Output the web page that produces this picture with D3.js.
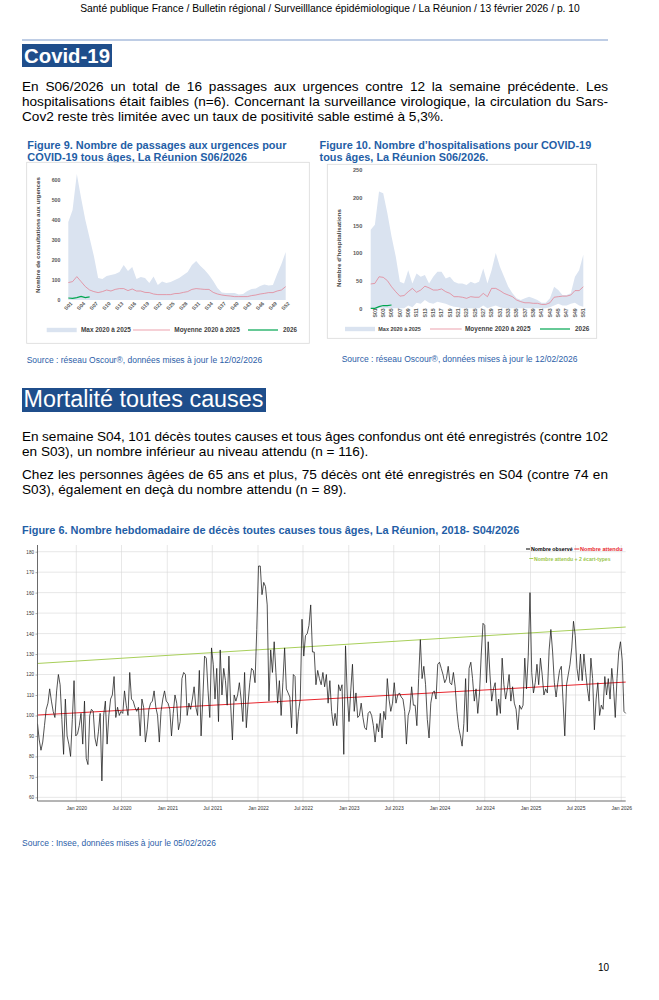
<!DOCTYPE html>
<html><head><meta charset="utf-8">
<script src="https://cdn.jsdelivr.net/npm/d3@7"></script>
<style>body{margin:0;background:#fff}svg{display:block}</style>
</head><body>
<svg id="page" width="659" height="1000"></svg>
<script>
// ---------------- DATA ----------------
const weeks = ["S01","S02","S03","S04","S05","S06","S07","S08","S09","S10","S11","S12","S13","S14","S15","S16","S17","S18","S19","S20","S21","S22","S23","S24","S25","S26","S27","S28","S29","S30","S31","S32","S33","S34","S35","S36","S37","S38","S39","S40","S41","S42","S43","S44","S45","S46","S47","S48","S49","S50","S51","S52"];
const fig9Ticks = ["S01","S04","S07","S10","S13","S16","S19","S22","S25","S28","S31","S34","S37","S40","S43","S46","S49","S52"];
const fig10Ticks = ["S01","S03","S05","S07","S09","S11","S13","S15","S17","S19","S21","S23","S25","S27","S29","S31","S33","S35","S37","S39","S41","S43","S45","S47","S49","S51"];
const fig9YTicks = [0,100,200,300,400,500,600];
const fig10YTicks = [0,50,100,150,200,250];

// Figure 9 : passages aux urgences
const fig9Max  = [390,450,630,510,400,310,220,110,105,120,125,130,140,175,145,165,105,115,110,85,118,75,92,85,90,100,110,125,140,175,195,170,150,125,95,60,38,35,35,35,28,30,45,55,58,70,78,72,75,130,180,240];
const fig9Mean = [87,92,117,92,67,50,42,37,42,50,45,53,57,57,47,55,45,45,38,37,30,27,27,27,27,32,33,38,42,53,57,55,53,53,38,30,25,22,20,17,17,17,17,22,25,30,33,37,37,45,50,67];
const fig9Y2026 = [10,8,12,18,12,16];

// Figure 10 : hospitalisations
const fig10Max  = [142,151,211,208,172,130,94,48,45,69,45,63,57,60,45,57,66,66,54,57,48,45,45,42,48,45,48,72,45,69,100,75,57,39,27,18,15,18,21,18,15,10,10,18,39,33,24,24,27,57,69,97];
const fig10Min  = [0,0,0,0,0,0,0,0,0,5,2,10,8,15,10,8,12,10,8,5,3,2,0,0,0,0,0,5,0,3,5,2,0,0,0,0,0,0,0,0,0,0,0,2,5,8,5,5,8,10,5,3];
const fig10Mean = [44,45,57,56,50,39,30,22,23,30,36,29,33,40,37,33,33,35,30,27,21,21,20,18,21,20,20,27,21,36,36,32,27,24,21,15,12,10,10,9,9,7,7,10,20,21,22,22,24,32,32,39];
const fig10Y2026 = [0,0,3,5,5,6];

// Figure 6 : décès hebdomadaires (observed, weekly from 2019-07-29)
const fig6Start = "2019-07-29";
const obsA = [96,88,83,87,95,103,106,113,107,102,99,112,120,115,98,81,108,90,86,80,98,117,90,91,95,101,86,107,79,76,100,103,102,89,85,92,101,68,100,107,86,100,108,110,119,99,104,100,102,101,112,105,100,121,108,107,104,102,104,90,108,104,87,93,103,106,107,112,104,100,87,102,108,112,107,106,103,90,101,110,106,93,97,118,121];
const obsB = [120,100,106,103,108,114,104,100,122,90,108,129,128,112,99,133,125,108,123,97,132,110,123,117,105,129,105,88,110,107,110,116,108,97,121,94,106,116,123,122,116,142,173,173,159,165,163,154,107,132,121,136,121,106,117,100,116,133,113,111,109,94,120,119,91,102,108,147,129,139,140,144,154,131,131,115,122,118,115,121,114,120,106,117,102];
const obsC = [95,101,95,115,112,115,81,134,110,97,112,125,102,111,99,100,106,99,94,93,101,102,100,95,87,96,92,101,89,102,98,118,108,102,106,116,106,110,111,109,108,102,86,100,103,114,105,105,95,118,137,118,124,115,98,89,106,111,112,108,125,126,123,120,116,118,124,116,115,121,114,102,94,90,85,96,118,92,123,126,118,107,113,101,111];
const obsD = [130,145,144,116,136,120,107,113,116,100,108,101,128,115,108,113,120,107,114,106,103,93,105,103,105,128,113,129,160,121,111,116,125,115,128,120,110,113,111,132,142,131,116,109,116,122,124,107,90,115,120,125,133,146,139,123,117,130,117,130,121,113,107,128,118,93,108,116,100,105,103,119,110,118,108,123,114,99,118,131,136,127,102,101];
const fig6TrendDates = ["2019-07-29","2026-01-19"];
const fig6Expected = [100.2,116.3];
const fig6Upper = [125.4,143.2];
const fig6TickDates = ["2020-01-01","2020-07-01","2021-01-01","2021-07-01","2022-01-01","2022-07-01","2023-01-01","2023-07-01","2024-01-01","2024-07-01","2025-01-01","2025-07-01","2026-01-01"];
const fig6TickLabels = ["Jan 2020","Jul 2020","Jan 2021","Jul 2021","Jan 2022","Jul 2022","Jan 2023","Jul 2023","Jan 2024","Jul 2024","Jan 2025","Jul 2025","Jan 2026"];
const fig6YTicks = [60,70,80,90,100,110,120,130,140,150,160,170,180];

// ---------------- DRAWING ----------------
const svg = d3.select('#page');
const FONT = "'Liberation Sans', Arial, Helvetica, sans-serif";
const BLUE_BOX = '#1f4e8b', BLUE_T = '#1f5ea6', BLUE_S = '#2c5ea8';

function txt(parent, x, y, s, o = {}) {
  const size = o.size || 12;
  const t = parent.append('text').attr('x', x).attr('y', y).text(s)
    .attr('font-family', o.family || FONT).attr('font-size', size)
    .attr('fill', o.fill || '#000').attr('font-weight', o.weight || 'normal')
    .attr('text-anchor', o.anchor || 'start');
  if (o.fit) { const w = t.node().getComputedTextLength(); t.attr('font-size', size * o.fit / w); }
  if (o.justify) {
    const w = t.node().getComputedTextLength();
    const n = (s.match(/ /g) || []).length;
    t.style('word-spacing', ((o.justify - w) / n) + 'px');
  }
  if (o.transform) t.attr('transform', o.transform);
  return t;
}

// header
txt(svg, 330, 11.5, 'Santé publique France / Bulletin régional / Surveilllance épidémiologique / La Réunion / 13 février 2026 / p. 10', {size: 9.5, anchor: 'middle', fit: 500});
svg.append('line').attr('x1', 22).attr('x2', 608).attr('y1', 40).attr('y2', 40).attr('stroke', '#a9bcdc').attr('stroke-width', 1.6);

// Covid heading
svg.append('rect').attr('x', 22).attr('y', 44).attr('width', 90).attr('height', 23).attr('fill', BLUE_BOX);
txt(svg, 24, 62.5, 'Covid-19', {size: 20, weight: 'bold', fill: '#fff', fit: 86});

// paragraph font size from the last (non-justified) line
const probe = txt(svg, 22, 120.5, 'Cov2 reste très limitée avec un taux de positivité sable estimé à 5,3%.', {size: 12.5, fit: 422});
const PS = +probe.attr('font-size');
txt(svg, 22, 90.5, 'En S06/2026 un total de 16 passages aux urgences contre 12 la semaine précédente. Les', {size: PS, justify: 586});
txt(svg, 22, 105.5, 'hospitalisations était faibles (n=6). Concernant la surveillance virologique, la circulation du Sars-', {size: PS, justify: 586});

// ---------- Covid charts ----------
function covidChart(c) {
  const g = svg.append('g');
  txt(g, c.titleX, 149, c.title1, {size: 10.5, weight: 'bold', fill: BLUE_T, fit: c.title1W});
  txt(g, c.titleX, 160.5, c.title2, {size: +g.select('text').attr('font-size'), weight: 'bold', fill: BLUE_T});
  g.append('rect').attr('x', c.box[0]).attr('y', c.box[1]).attr('width', c.box[2] - c.box[0]).attr('height', c.box[3] - c.box[1])
    .attr('fill', '#fff').attr('stroke', '#d9d9d9').attr('stroke-width', 0.8);
  const x = d3.scalePoint().domain(weeks).range(c.xr);
  const y = d3.scaleLinear().domain([0, c.yMax]).range(c.yr);
  const area = d3.area().x((d, i) => x(weeks[i])).y0((d, i) => y(c.min ? c.min[i] : 0)).y1(d => y(d));
  g.append('path').datum(c.max).attr('d', area).attr('fill', '#dae3f0');
  const line = d3.line().x((d, i) => x(weeks[i])).y(d => y(d));
  g.append('path').datum(c.mean).attr('d', line).attr('fill', 'none').attr('stroke', '#e4798a').attr('stroke-width', 0.7);
  g.append('path').datum(c.y2026).attr('d', line).attr('fill', 'none').attr('stroke', '#00a651').attr('stroke-width', 1.2);
  // y axis
  const ya = g.append('g').attr('transform', `translate(${c.xr[0]},0)`)
    .call(d3.axisLeft(y).tickValues(c.yTicks).tickSize(0).tickPadding(c.yPad));
  ya.select('.domain').remove();
  ya.selectAll('text').attr('font-family', FONT).attr('font-size', c.yFont).attr('fill', '#595959').attr('font-weight', 'bold');
  // x axis
  const xa = g.append('g').attr('transform', `translate(0,${c.yr[0]})`)
    .call(d3.axisBottom(x).tickValues(c.xTicks).tickSize(0).tickPadding(0));
  xa.select('.domain').remove();
  xa.selectAll('text').attr('font-family', FONT).attr('font-size', c.xFont).attr('fill', '#595959').attr('font-weight', 'bold')
    .attr('text-anchor', 'end').attr('dy', c.xDy).attr('dx', 0).attr('y', c.xY)
    .attr('transform', `rotate(${c.xRot})`);
  // y label
  txt(g, 0, 0, c.yLabel, {size: 6, weight: 'bold', fill: '#404040', anchor: 'middle', fit: c.yLabelW,
      transform: `translate(${c.yLabelX},${c.yLabelY}) rotate(-90)`});
  // legend
  const L = c.legend;
  g.append('rect').attr('x', L.band[0]).attr('y', L.y - 2.2).attr('width', L.band[1] - L.band[0]).attr('height', 4.4).attr('fill', '#dae3f0');
  txt(g, L.t1, L.y + 2, 'Max 2020 à 2025', {size: 6, weight: 'bold', fill: '#404040', fit: L.w1});
  g.append('line').attr('x1', L.mean[0]).attr('x2', L.mean[1]).attr('y1', L.y).attr('y2', L.y).attr('stroke', '#e4798a').attr('stroke-width', 0.7);
  txt(g, L.t2, L.y + 2, 'Moyenne 2020 à 2025', {size: 6, weight: 'bold', fill: '#404040', fit: L.w2});
  g.append('line').attr('x1', L.green[0]).attr('x2', L.green[1]).attr('y1', L.y).attr('y2', L.y).attr('stroke', '#00a651').attr('stroke-width', 1.2);
  txt(g, L.t3, L.y + 2, '2026', {size: 6, weight: 'bold', fill: '#404040', fit: L.w3});
  // source
  txt(g, c.srcX, c.srcY, 'Source : réseau Oscour®, données mises à jour le 12/02/2026', {size: 8, fill: BLUE_S, fit: c.srcW});
}

covidChart({
  titleX: 27.3, title1: 'Figure 9. Nombre de passages aux urgences pour', title1W: 259.4, title2: 'COVID-19 tous âges, La Réunion S06/2026',
  box: [26.7, 162.3, 309.3, 343.3], xr: [68.3, 285.7], yr: [300, 180], yMax: 600,
  max: fig9Max, mean: fig9Mean, y2026: fig9Y2026, yTicks: fig9YTicks, xTicks: fig9Ticks,
  yPad: 8, yFont: 5.2, xFont: 5.2, xRot: -45, xDy: '0.3em', xY: 4,
  yLabel: 'Nombre de consultations aux urgences', yLabelW: 116, yLabelX: 40, yLabelY: 235,
  legend: {y: 330, band: [46.7, 76.7], t1: 81, w1: 50, mean: [133, 170], t2: 174.3, w2: 65.7, green: [248, 278], t3: 283, w3: 14},
  srcX: 26.7, srcY: 363, srcW: 235.6
});
covidChart({
  titleX: 319.5, title1: 'Figure 10. Nombre d’hospitalisations pour COVID-19', title1W: 272, title2: 'tous âges, La Réunion S06/2026.',
  box: [327.3, 164.3, 596.7, 338.3], xr: [370.7, 583.3], yr: [308.3, 170], yMax: 250, min: fig10Min,
  max: fig10Max, mean: fig10Mean, y2026: fig10Y2026, yTicks: fig10YTicks, xTicks: fig10Ticks,
  yPad: 8.4, yFont: 5.6, xFont: 5.2, xRot: -90, xDy: '0.35em', xY: 3.5,
  yLabel: 'Nombre d’hospitalisations', yLabelW: 78, yLabelX: 341, yLabelY: 248,
  legend: {y: 329, band: [345, 375], t1: 378.3, w1: 42.7, mean: [430, 461.7], t2: 465, w2: 65.7, green: [540, 570], t3: 575, w3: 14.3},
  srcX: 341.7, srcY: 362.3, srcW: 236
});
// fix rotated x labels of fig 10: rotation around their own anchor
svg.selectAll('g').filter(function(){ return false; });

// ---------- Mortalité ----------
svg.append('rect').attr('x', 22).attr('y', 388).attr('width', 244).attr('height', 24).attr('fill', BLUE_BOX);
txt(svg, 23.5, 407, 'Mortalité toutes causes', {size: 21, fill: '#fff', fit: 240});
txt(svg, 22, 440.5, 'En semaine S04, 101 décès toutes causes et tous âges confondus ont été enregistrés (contre 102', {size: PS, justify: 586});
txt(svg, 22, 455.5, 'en S03), un nombre inférieur au niveau attendu (n = 116).', {size: PS});
txt(svg, 22, 478.5, 'Chez les personnes âgées de 65 ans et plus, 75 décès ont été enregistrés en S04 (contre 74 en', {size: PS, justify: 586});
txt(svg, 22, 493.5, 'S03), également en deçà du nombre attendu (n = 89).', {size: PS});

txt(svg, 22, 533.5, 'Figure 6. Nombre hebdomadaire de décès toutes causes tous âges, La Réunion, 2018- S04/2026', {size: 10, weight: 'bold', fill: BLUE_T, fit: 498});

(function fig6() {
  const g = svg.append('g');
  const parse = d3.utcParse('%Y-%m-%d');
  const obs = obsA.concat(obsB, obsC, obsD);
  const start = parse(fig6Start);
  const data = obs.map((v, i) => ({date: d3.utcDay.offset(start, 7 * i), v}));
  const x = d3.scaleUtc().domain([data[0].date, data[data.length - 1].date]).range([37.5, 625.7]);
  const y = d3.scaleLinear().domain([58.2, 180]).range([801, 551.7]);
  const ticks = fig6TickDates.map(parse);
  // grid
  g.append('g').selectAll('line').data(fig6YTicks).join('line')
    .attr('x1', 37.5).attr('x2', 625.7).attr('y1', d => y(d)).attr('y2', d => y(d))
    .attr('stroke', '#d6d6d6').attr('stroke-width', 0.6);
  g.append('g').selectAll('line').data(ticks).join('line')
    .attr('x1', d => x(d)).attr('x2', d => x(d)).attr('y1', 545).attr('y2', 801)
    .attr('stroke', '#d6d6d6').attr('stroke-width', 0.6);
  // trend lines
  const td = fig6TrendDates.map(parse);
  const tl = d3.line().x((d, i) => x(td[i])).y(d => y(d));
  g.append('path').datum(fig6Upper).attr('d', tl).attr('stroke', '#a8cf5a').attr('stroke-width', 1).attr('fill', 'none');
  g.append('path').datum(fig6Expected).attr('d', tl).attr('stroke', '#e8262e').attr('stroke-width', 1).attr('fill', 'none');
  // observed
  g.append('path').datum(data).attr('d', d3.line().x(d => x(d.date)).y(d => y(d.v)))
    .attr('stroke', '#1a1a1a').attr('stroke-width', 0.75).attr('fill', 'none').attr('stroke-linejoin', 'round');
  // axes
  const ya = g.append('g').attr('transform', 'translate(37.5,0)').call(d3.axisLeft(y).tickValues(fig6YTicks).tickSize(2).tickPadding(1.5));
  ya.select('.domain').attr('d', 'M0,545V801').attr('stroke', '#595959').attr('stroke-width', 0.9);
  ya.selectAll('.tick line').attr('stroke', '#595959').attr('stroke-width', 0.5);
  ya.selectAll('text').attr('font-family', FONT).attr('font-size', 4.6).attr('fill', '#333');
  const xa = g.append('g').attr('transform', 'translate(0,801)')
    .call(d3.axisBottom(x).tickValues(ticks).tickSize(0).tickPadding(5).tickFormat((d, i) => fig6TickLabels[i]));
  xa.select('.domain').attr('d', 'M37.5,0H625.7').attr('stroke', '#595959').attr('stroke-width', 0.9);
  xa.selectAll('text').attr('font-family', FONT).attr('font-size', 5).attr('fill', '#333');
  // legend
  const lg = g.append('g');
  lg.append('line').attr('x1', 526).attr('x2', 530).attr('y1', 549).attr('y2', 549).attr('stroke', '#000').attr('stroke-width', 1);
  txt(lg, 531, 551, 'Nombre observé', {size: 5.5, weight: 'bold', fill: '#000', fit: 41.7});
  lg.append('line').attr('x1', 574.3).attr('x2', 579.3).attr('y1', 549).attr('y2', 549).attr('stroke', '#e8262e').attr('stroke-width', 1);
  txt(lg, 580, 551, 'Nombre attendu', {size: 5.5, weight: 'bold', fill: '#e8262e', fit: 42.7});
  lg.append('line').attr('x1', 529.3).attr('x2', 533.3).attr('y1', 558.5).attr('y2', 558.5).attr('stroke', '#a8cf5a').attr('stroke-width', 1);
  txt(lg, 534, 560.5, 'Nombre attendu + 2 écart-types', {size: 5.5, weight: 'bold', fill: '#9cc64a', fit: 76.7});
})();

txt(svg, 22, 846, 'Source : Insee, données mises à jour le 05/02/2026', {size: 7.5, fill: BLUE_S, fit: 194});
txt(svg, 609, 971, '10', {size: 10, anchor: 'end'});
</script>
</body></html>
